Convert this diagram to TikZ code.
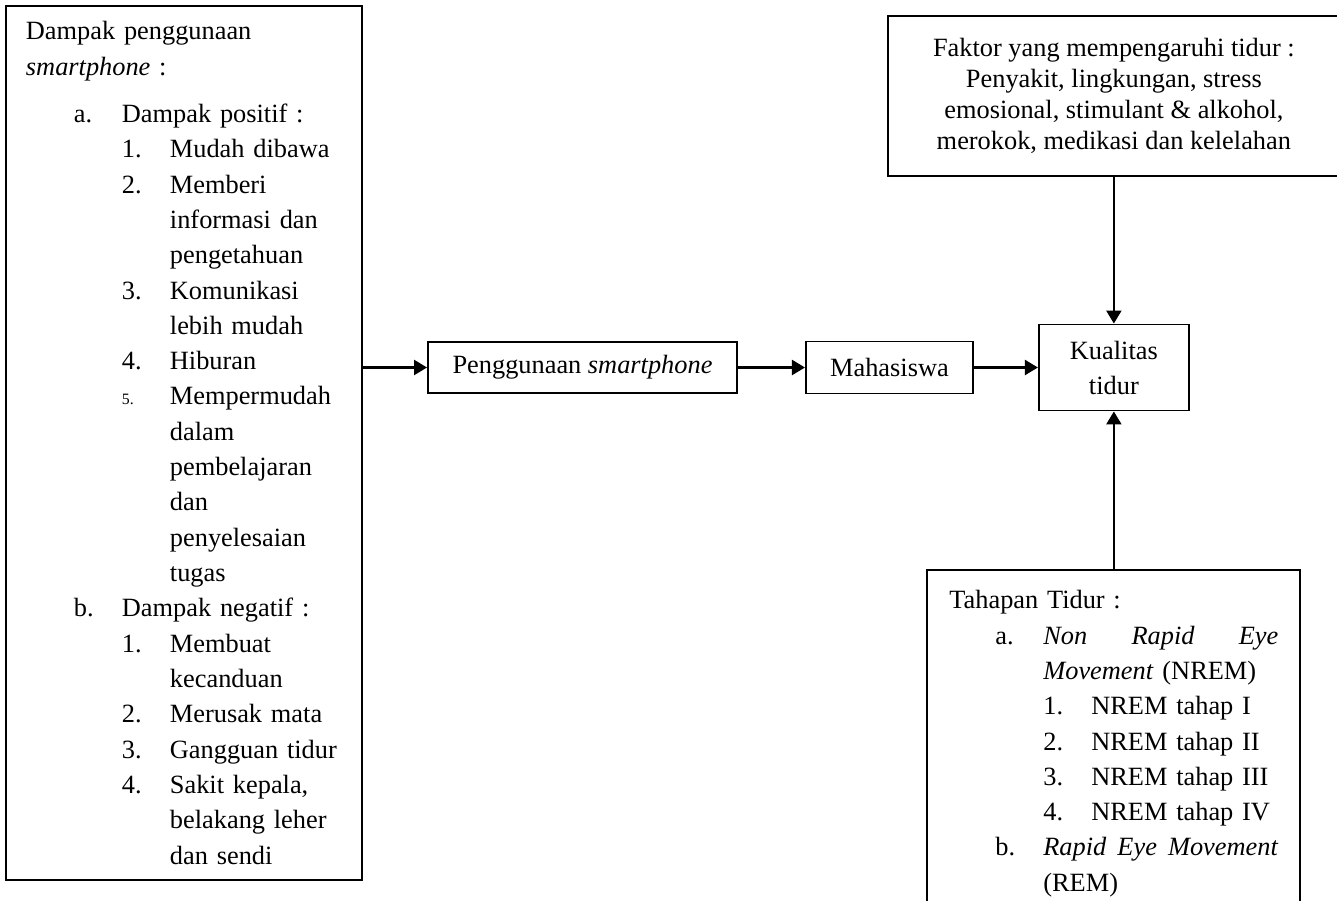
\documentclass[tikz,border=0pt]{standalone}
\usepackage{fontspec}
\setmainfont{Liberation Serif}
\usetikzlibrary{arrows.meta,positioning}
\newcommand{\entry}[3]{{\leftskip=#1\relax\noindent\llap{\makebox[0.96cm][l]{#2}}#3\par}}
\tikzset{
  listbox/.style={
    rectangle, draw=black, line width=1.1pt, fill=white,
    align=left, inner xsep=0.4cm,
    font=\fontsize{15}{20.1}\selectfont
  },
  flowbox/.style={
    rectangle, draw=black, line width=1.1pt, fill=white,
    align=center, inner sep=0pt,
    font=\fontsize{15}{19.9}\selectfont
  },
  flowarrow/.style={-{Triangle[length=0.26cm,width=0.3cm]}, line width=1.3pt},
}
\begin{document}
\begin{tikzpicture}[node distance=1.34cm]
  \clip (0,0) rectangle (26.74,-18.02);
  \node[listbox, text width=6.32cm, minimum height=17.48cm, anchor=north west] (impact) at (0.1,-0.1) {%
    Dampak penggunaan\\\textit{smartphone} :\par\vspace{0.24cm}
    \entry{1.92cm}{a.}{Dampak positif :}
    \entry{2.88cm}{1.}{Mudah dibawa}
    \entry{2.88cm}{2.}{Memberi\\informasi dan\\pengetahuan}
    \entry{2.88cm}{3.}{Komunikasi\\lebih mudah}
    \entry{2.88cm}{4.}{Hiburan}
    \entry{2.88cm}{{\small 5.}}{Mempermudah\\dalam\\pembelajaran\\dan\\penyelesaian\\tugas}
    \entry{1.92cm}{b.}{Dampak negatif :}
    \entry{2.88cm}{1.}{Membuat\\kecanduan}
    \entry{2.88cm}{2.}{Merusak mata}
    \entry{2.88cm}{3.}{Gangguan tidur}
    \entry{2.88cm}{4.}{Sakit kepala,\\belakang leher\\dan sendi}};
  \node[flowbox, minimum width=6.18cm, minimum height=1.02cm] (usage) at (11.65,-7.35) {Penggunaan \textit{smartphone}};
  \node[flowbox, right=of usage, minimum width=3.34cm, minimum height=1.04cm] (student) {Mahasiswa};
  \node[flowbox, right=1.28cm of student, minimum width=3cm, minimum height=1.72cm] (quality) {Kualitas\\tidur};
  \node[flowbox, above=2.94cm of quality, minimum width=9.02cm, minimum height=3.2cm,
        font=\fontsize{15}{17.6}\selectfont] (factors) {Faktor yang mempengaruhi tidur :\\Penyakit, lingkungan, stress\\emosional, stimulant \& alkohol,\\merokok, medikasi dan kelelahan};
  \node[listbox, below=3.16cm of quality, text width=6.58cm, inner xsep=0.44cm, inner ysep=0.4cm] (stages) {%
    Tahapan Tidur :\par
    \entry{1.88cm}{a.}{\textit{Non}\hfill\textit{Rapid}\hfill\textit{Eye}\\\textit{Movement} (NREM)}
    \entry{2.84cm}{1.}{NREM tahap I}
    \entry{2.84cm}{2.}{NREM tahap II}
    \entry{2.84cm}{3.}{NREM tahap III}
    \entry{2.84cm}{4.}{NREM tahap IV}
    \entry{1.88cm}{b.}{\textit{Rapid}\hfill\textit{Eye}\hfill\textit{Movement}\\(REM)}};
  \draw[flowarrow] (impact.east |- usage.west) -- (usage);
  \foreach \a/\b in {usage/student,student/quality,factors/quality,stages/quality}
    \draw[flowarrow] (\a) -- (\b);
\end{tikzpicture}
\end{document}
